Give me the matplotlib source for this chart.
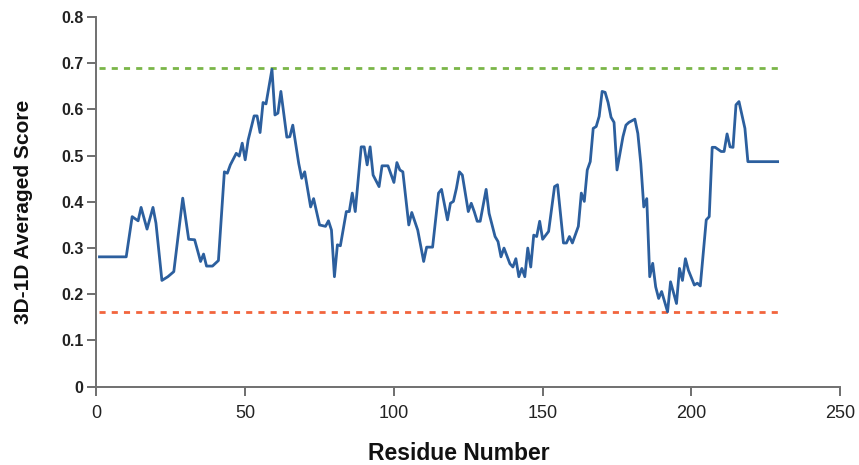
import matplotlib
matplotlib.use("Agg")
import matplotlib.pyplot as plt

# Per-residue 3D-1D averaged profile (vertices of the trace)
residues = [1, 10, 12, 14, 15, 17, 19, 20, 22, 24, 26, 29, 31, 33, 35, 36, 37, 39, 41,
            43, 44, 45, 47, 48, 49, 50, 51, 53, 54, 55, 56, 57, 59, 60, 61, 62, 64, 65,
            66, 68, 69, 70, 72, 73, 75, 77, 78, 79, 80, 81, 82, 84, 85, 86, 87, 89, 90,
            91, 92, 93, 95, 96, 98, 100, 101, 102, 103, 105, 106, 108, 110, 111, 113,
            115, 116, 118, 119, 120, 121, 122, 123, 125, 126, 127, 128, 129, 131, 132,
            134, 135, 136, 137, 139, 140, 141, 142, 143, 144, 145, 146, 147, 148, 149,
            150, 152, 154, 155, 157, 158, 159, 160, 162, 163, 164, 165, 166, 167, 168,
            169, 170, 171, 172, 173, 174, 175, 177, 178, 179, 181, 182, 183, 184, 185,
            186, 187, 188, 189, 190, 192, 193, 195, 196, 197, 198, 199, 201, 202, 203,
            205, 206, 207, 208, 210, 211, 212, 213, 214, 215, 216, 218, 219, 229]
scores = [0.281, 0.281, 0.368, 0.359, 0.388, 0.341, 0.388, 0.354, 0.230, 0.238, 0.249,
          0.408, 0.319, 0.318, 0.271, 0.287, 0.261, 0.261, 0.273, 0.465, 0.462, 0.480,
          0.505, 0.499, 0.527, 0.491, 0.534, 0.586, 0.586, 0.550, 0.615, 0.612, 0.687,
          0.588, 0.592, 0.639, 0.540, 0.541, 0.566, 0.483, 0.451, 0.465, 0.389, 0.407,
          0.350, 0.347, 0.359, 0.339, 0.238, 0.307, 0.305, 0.379, 0.379, 0.419, 0.379,
          0.519, 0.519, 0.480, 0.519, 0.458, 0.433, 0.478, 0.478, 0.442, 0.485, 0.469,
          0.465, 0.350, 0.377, 0.339, 0.271, 0.302, 0.302, 0.419, 0.427, 0.361, 0.397,
          0.401, 0.429, 0.465, 0.458, 0.379, 0.397, 0.379, 0.358, 0.358, 0.427, 0.375,
          0.325, 0.314, 0.281, 0.300, 0.266, 0.259, 0.277, 0.238, 0.256, 0.238, 0.300,
          0.259, 0.328, 0.325, 0.358, 0.319, 0.336, 0.433, 0.437, 0.311, 0.311, 0.325,
          0.311, 0.347, 0.419, 0.401, 0.469, 0.487, 0.559, 0.563, 0.585, 0.639, 0.637,
          0.615, 0.583, 0.572, 0.469, 0.541, 0.566, 0.572, 0.579, 0.548, 0.483, 0.389,
          0.407, 0.238, 0.267, 0.216, 0.191, 0.206, 0.162, 0.227, 0.180, 0.256, 0.230,
          0.277, 0.252, 0.220, 0.224, 0.218, 0.361, 0.368, 0.518, 0.518, 0.509, 0.509,
          0.547, 0.519, 0.518, 0.610, 0.617, 0.559, 0.487, 0.487]

# Reference thresholds (max / min of the profile)
upper_threshold = 0.689
lower_threshold = 0.161

x_ticks = [0, 50, 100, 150, 200, 250]
y_ticks = [0, 0.1, 0.2, 0.3, 0.4, 0.5, 0.6, 0.7, 0.8]
y_tick_labels = ["0", "0.1", "0.2", "0.3", "0.4", "0.5", "0.6", "0.7", "0.8"]

plt.rcParams["font.family"] = ["Liberation Sans", "DejaVu Sans"]

fig = plt.figure(figsize=(8.59, 4.65), dpi=100)
ax = fig.add_axes([0.1123, 0.1684, 0.8657, 0.795])

ax.plot([0.8, residues[-1]], [upper_threshold, upper_threshold], color="#7ab648",
        lw=2.0, dashes=(2.2, 2.2), dash_capstyle="butt")
ax.plot([0.8, residues[-1]], [lower_threshold, lower_threshold], color="#f2653d",
        lw=2.0, dashes=(2.2, 2.2), dash_capstyle="butt")
ax.plot(residues, scores, color="#2c5f9e", lw=2.0, solid_joinstyle="round")

ax.set_xlim(0, 250)
ax.set_ylim(0, 0.8)
ax.set_xticks(x_ticks)
ax.set_yticks(y_ticks)
ax.set_yticklabels(y_tick_labels)

for side in ("top", "right"):
    ax.spines[side].set_visible(False)
for side in ("left", "bottom"):
    ax.spines[side].set_color("#707070")
    ax.spines[side].set_linewidth(1.4)

ax.tick_params(axis="both", direction="out", length=6.5, width=1.2, color="#555555",
               labelcolor="#222222")
ax.tick_params(axis="x", labelsize=13, pad=7)
ax.tick_params(axis="y", labelsize=11.5, pad=3)
for lbl in ax.get_yticklabels():
    lbl.set_fontweight("bold")

ax.set_xlabel("Residue Number", fontsize=16.5, fontweight="bold", color="#111111")
ax.set_ylabel("3D-1D Averaged Score", fontsize=15, fontweight="bold", color="#111111")
ax.xaxis.set_label_coords(0.4876, -0.150)
ax.yaxis.set_label_coords(-0.0854, 0.473)

fig.savefig("out.png", dpi=100)
